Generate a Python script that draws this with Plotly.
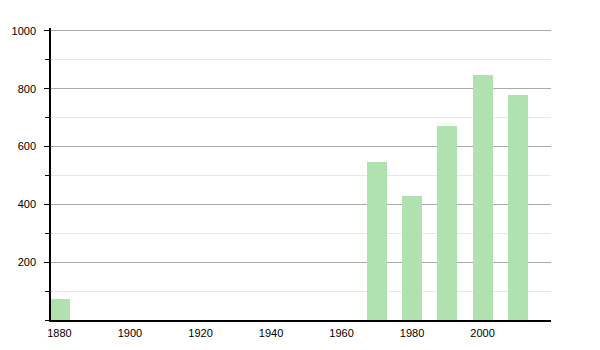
import plotly.graph_objects as go

years = [1880, 1970, 1980, 1990, 2000, 2010]
population = [72, 546, 429, 671, 847, 778]
x_ticks = [1880, 1900, 1920, 1940, 1960, 1980, 2000]
y_ticks = [200, 400, 600, 800, 1000]

fig = go.Figure()
fig.add_trace(go.Bar(
    x=years, y=population, width=5.7,
    marker=dict(color="rgb(176,226,176)", line=dict(width=0)),
    hoverinfo="x+y",
))

fig.update_layout(
    width=600, height=350,
    margin=dict(l=51, r=49, t=28, b=30),
    paper_bgcolor="white", plot_bgcolor="white",
    showlegend=False,
    font=dict(family="Liberation Sans, Arial, sans-serif", size=11, color="black"),
    bargap=0,
)
fig.update_xaxes(
    range=[1877.6, 2019.4],
    tickvals=x_ticks,
    showgrid=False, zeroline=False,
    showline=True, linecolor="black", linewidth=1.5,
    ticks="", ticklabelstandoff=2,
)
fig.update_yaxes(
    range=[0, 1010],
    tickvals=y_ticks,
    showgrid=True, gridcolor="#aaaaaa", gridwidth=1,
    zeroline=False,
    showline=True, linecolor="black", linewidth=1.5,
    ticks="outside", ticklen=5, tickcolor="black",
    ticklabelstandoff=6,
    minor=dict(dtick=100, tick0=0, showgrid=True, gridcolor="#e8e8e8",
               ticks="outside", ticklen=4, tickcolor="black"),
)
fig.write_html("out.html")
